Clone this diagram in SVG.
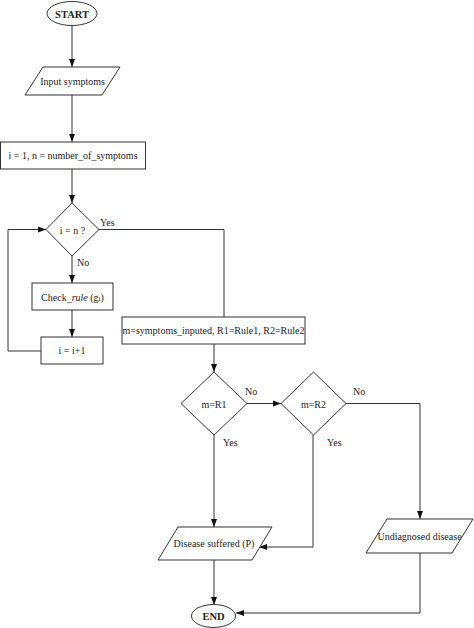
<svg xmlns="http://www.w3.org/2000/svg" width="474" height="628" viewBox="0 0 474 628">
<style>
.n{fill:#fff;stroke:#333;stroke-width:1}
text{font-family:'Liberation Serif','Times New Roman',Times,serif;font-size:10px;fill:#222}
.t{text-anchor:middle;dominant-baseline:central}
.b{font-weight:bold;font-size:10.5px}
.c{fill:none;stroke:#333;stroke-width:1}
</style>
<defs>
<marker id="a" markerUnits="userSpaceOnUse" markerWidth="8" markerHeight="8" viewBox="0 0 8 8" refX="8" refY="4" orient="auto">
<path d="M0,1 L8,4 L0,7 z" fill="#111"/>
</marker>
</defs>
<rect width="474" height="628" fill="#fff"/>
<g id="connectors" class="c">
<path d="M72,25 V67" marker-end="url(#a)"/>
<path d="M72,95 V142" marker-end="url(#a)"/>
<path d="M72,169 V203" marker-end="url(#a)"/>
<path d="M72,256 V283" marker-end="url(#a)"/>
<path d="M72,310 V337" marker-end="url(#a)"/>
<path d="M41,351 H8 V229.5 H46" marker-end="url(#a)"/>
<path d="M99,229.5 H224 V317"/>
<path d="M214,344 V372" marker-end="url(#a)"/>
<path d="M247,403.5 H281" marker-end="url(#a)"/>
<path d="M346,403.5 H420 V519" marker-end="url(#a)"/>
<path d="M214,435 V527" marker-end="url(#a)"/>
<path d="M313,435 V547 H259" marker-end="url(#a)"/>
<path d="M214,560 V605" marker-end="url(#a)"/>
<path d="M420,553 V613 H236" marker-end="url(#a)"/>
</g>
<g id="labels">
<text x="100" y="226">Yes</text>
<text x="77" y="266">No</text>
<text x="245" y="395">No</text>
<text x="353" y="395">No</text>
<text x="223" y="446">Yes</text>
<text x="327" y="446">Yes</text>
</g>
<g id="start">
<ellipse class="n" cx="72" cy="13.5" rx="25" ry="12"/>
<text class="t b" x="72" y="14">START</text>
</g>
<g id="input">
<polygon class="n" points="43,67 120,67 102,95 25,95"/>
<text class="t" x="72.5" y="81.5">Input symptoms</text>
</g>
<g id="init">
<rect class="n" x="0.5" y="142" width="145" height="27"/>
<text class="t" x="73" y="155.5" font-size="10.5">i = 1, n = number_of_symptoms</text>
</g>
<g id="cond">
<polygon class="n" points="72,203 99,229.5 72,256 46,229.5"/>
<text class="t" x="72.5" y="230">i = n ?</text>
</g>
<g id="check">
<rect class="n" x="32" y="283" width="81" height="27"/>
<text class="t" x="72.5" y="297">Check_<tspan font-style="italic">rule</tspan> (g<tspan font-size="7" dy="2">i</tspan><tspan dy="-2">)</tspan></text>
</g>
<g id="inc">
<rect class="n" x="41" y="337" width="62" height="27"/>
<text class="t" x="72" y="350.5">i = i+1</text>
</g>
<g id="assign">
<rect class="n" x="122" y="317" width="183" height="27"/>
<text class="t" x="213.5" y="330.5" font-size="9.6">m=symptoms_inputed, R1=Rule1, R2=Rule2</text>
</g>
<g id="r1">
<polygon class="n" points="214,372 247,403.5 214,435 181,403.5"/>
<text class="t" x="214" y="404">m=R1</text>
</g>
<g id="r2">
<polygon class="n" points="313.5,372 346,403.5 313.5,435 281,403.5"/>
<text class="t" x="313.5" y="404">m=R2</text>
</g>
<g id="disease">
<polygon class="n" points="178,527 272,527 252,560 158,560"/>
<text class="t" x="214" y="543.5">Disease suffered (P)</text>
</g>
<g id="undiag">
<polygon class="n" points="387,519 473,519 452,553 366,553"/>
<text class="t" x="419.5" y="536.5">Undiagnosed disease</text>
</g>
<g id="end">
<ellipse class="n" cx="213.5" cy="616" rx="22" ry="11.5"/>
<text class="t b" x="213.5" y="616.5">END</text>
</g>
</svg>
